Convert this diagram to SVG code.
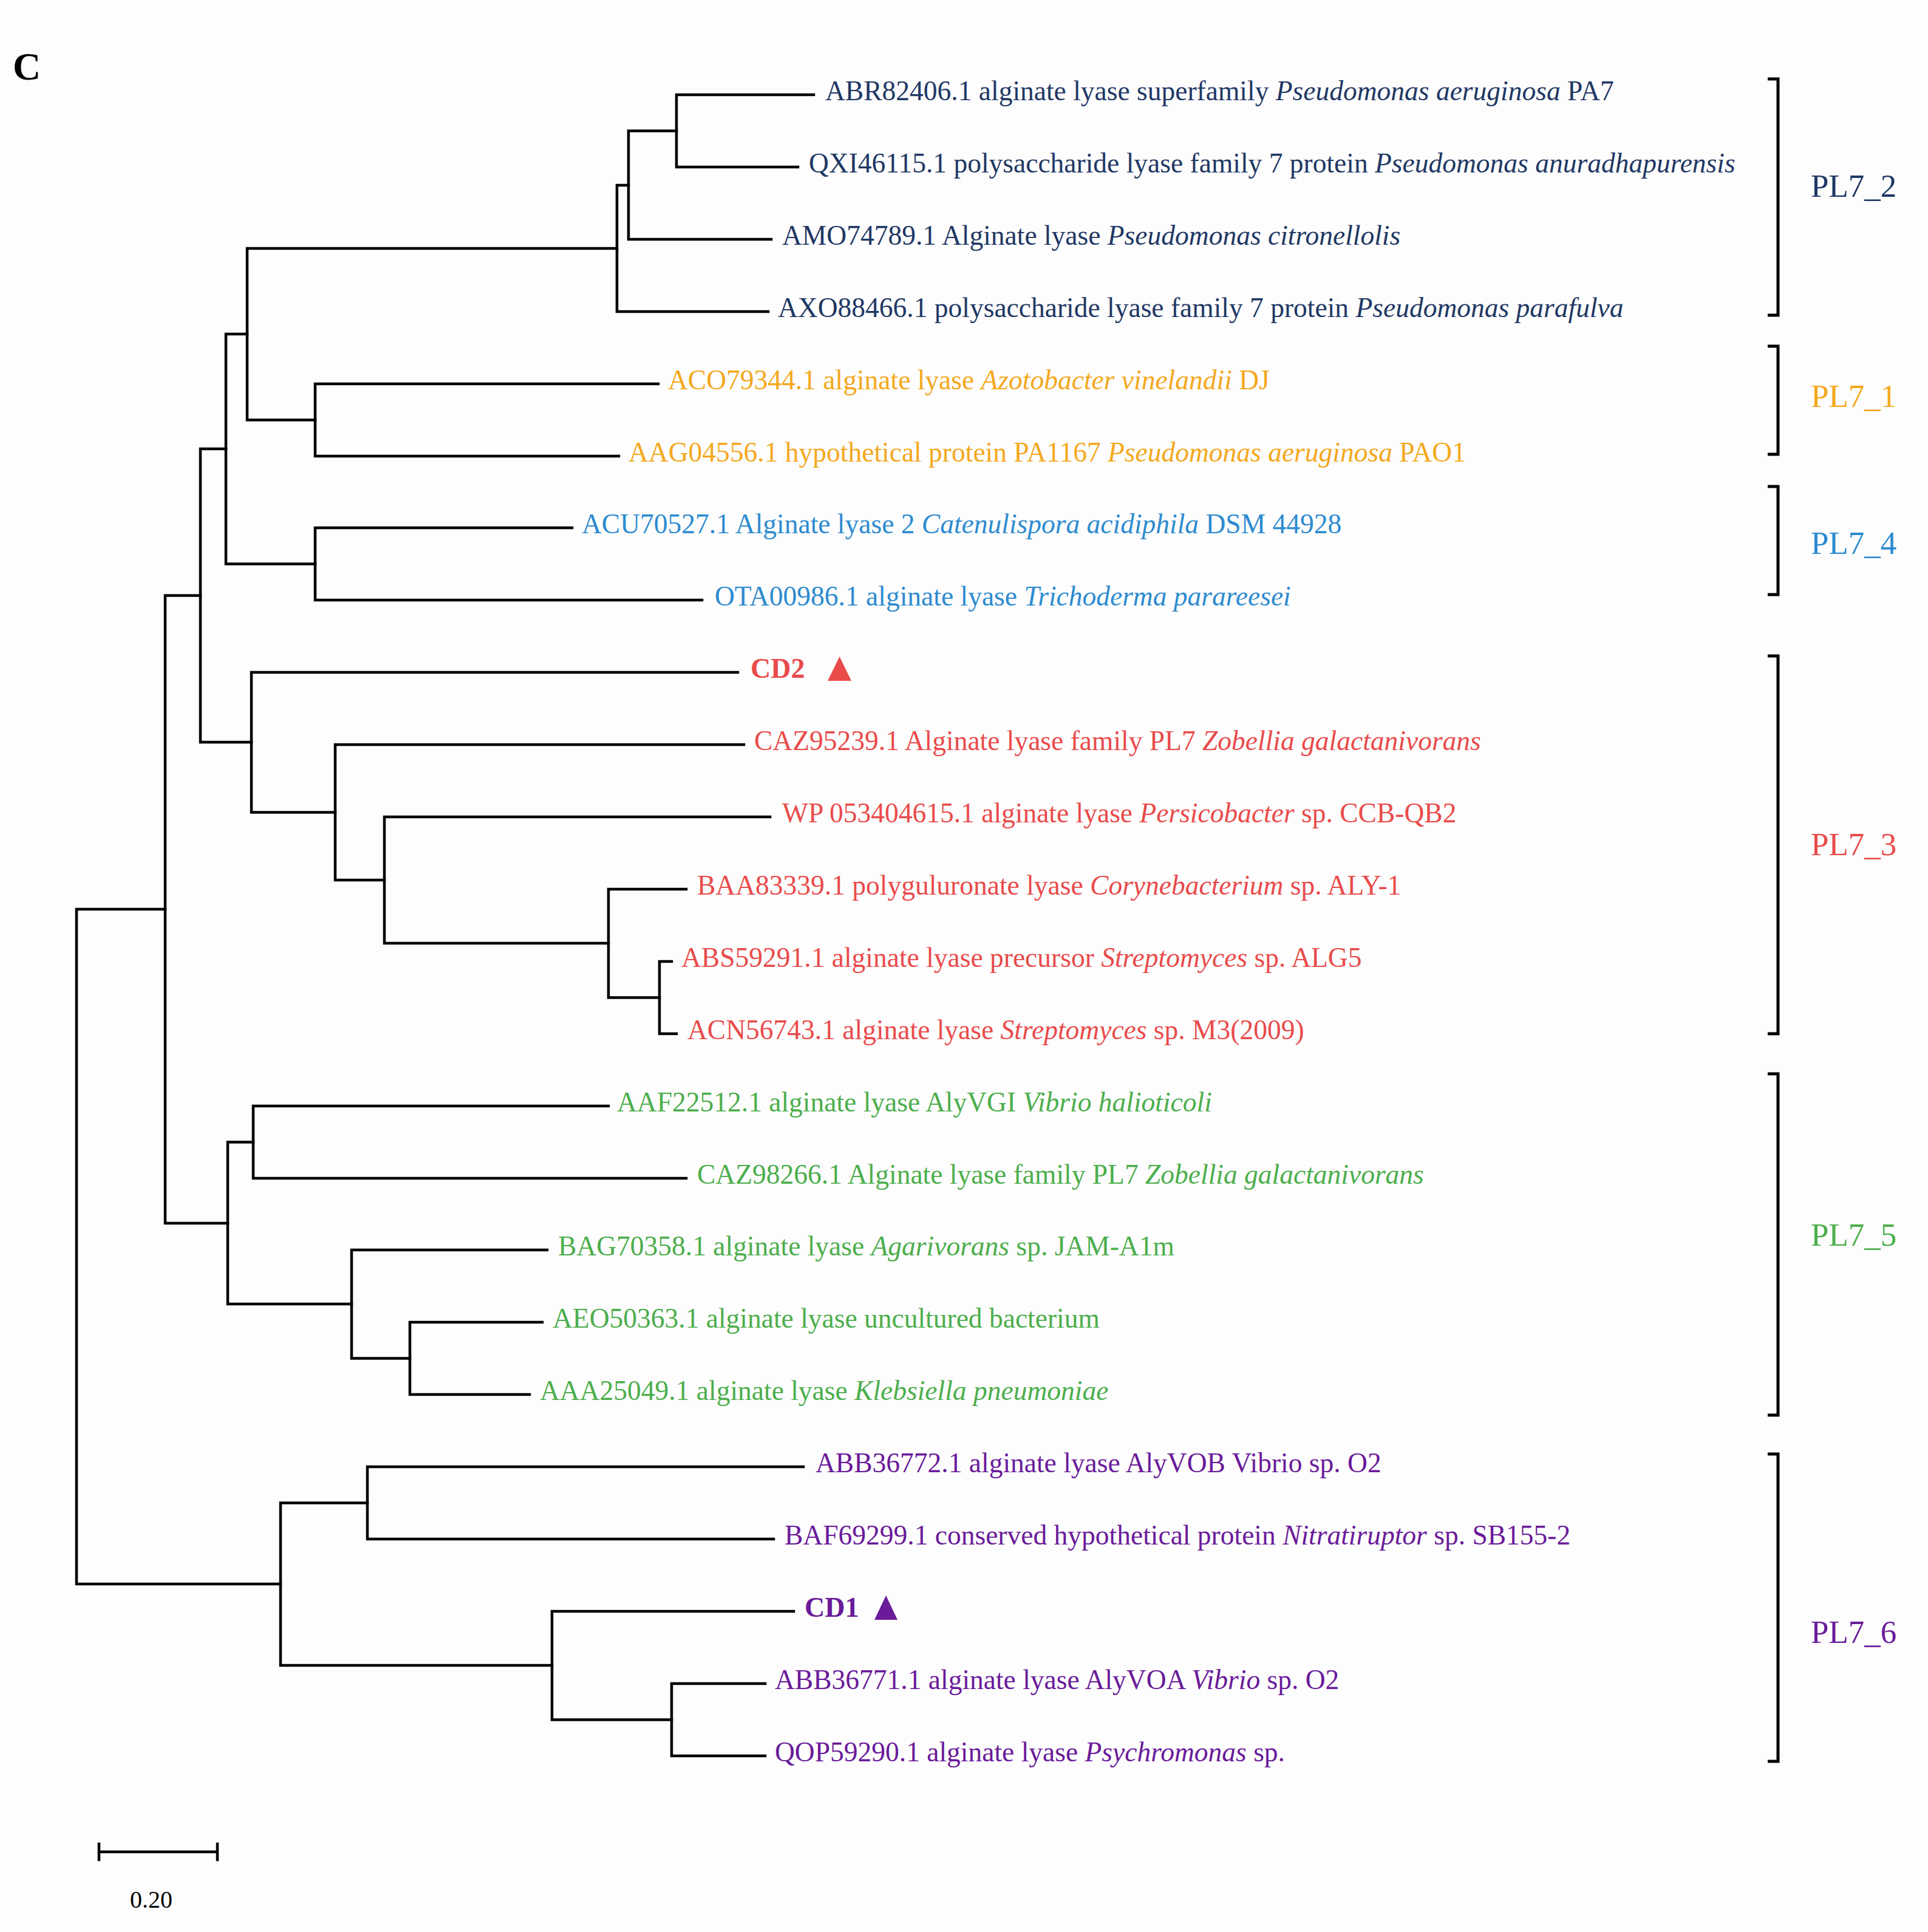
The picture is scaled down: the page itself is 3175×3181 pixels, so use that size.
<svg xmlns="http://www.w3.org/2000/svg" width="3175" height="3181" viewBox="0 0 3175 3181">
<style>
.t{font-family:"Liberation Serif","Times New Roman",serif;font-size:45.5px}
.i{font-style:italic}
.b{font-weight:bold;font-size:46px}
.lab{font-family:"Liberation Serif","Times New Roman",serif;font-size:53px}
.br{fill:none;stroke:#000;stroke-width:5}
.ln{fill:none;stroke:#000;stroke-width:4.5;stroke-linecap:square}
.c2{fill:#1f3864}.c1{fill:#f4a81d}.c4{fill:#2d8bd0}.c3{fill:#e94b4b}.c5{fill:#4cae4c}.c6{fill:#6a1b9a}
</style>
<rect width="3175" height="3181" fill="#fdfdfd"/>
<text x="21" y="131" font-family="Liberation Serif,serif" font-weight="bold" font-size="64">C</text>

<g id="connectors" class="ln">
<path d="M1340 156 H1114 V275 H1314"/>
<path d="M1114 215.5 H1035 V394 H1270"/>
<path d="M1035 305 H1016 V513 H1265"/>
<path d="M1084 632 H519 V751 H1019"/>
<path d="M1016 409 H407 V691.5 H519"/>
<path d="M942 869 H519 V988 H1156"/>
<path d="M407 550 H372 V928.5 H519"/>
<path d="M1106 1583 H1086 V1702 H1114"/>
<path d="M1130 1464 H1002 V1642.5 H1086"/>
<path d="M1268 1345 H633 V1553 H1002"/>
<path d="M1225 1226 H552 V1449 H633"/>
<path d="M1215 1107 H414 V1337.5 H552"/>
<path d="M372 739 H330 V1222 H414"/>
<path d="M1002 1821 H417 V1940 H1130"/>
<path d="M893 2177 H675 V2296 H872"/>
<path d="M901 2058 H579 V2236.5 H675"/>
<path d="M417 1880.5 H375 V2147 H579"/>
<path d="M330 980.5 H272 V2014 H375"/>
<path d="M1323 2415 H605 V2534 H1274"/>
<path d="M1260 2772 H1106 V2891 H1260"/>
<path d="M1307 2653 H909 V2831.5 H1106"/>
<path d="M605 2474.5 H462 V2742 H909"/>
<path d="M272 1497 H126 V2608 H462"/>
</g>

<g id="leaf-ABR82406" class="t c2"><text x="1359" y="165">ABR82406.1 alginate lyase superfamily <tspan class="i">Pseudomonas aeruginosa</tspan> PA7</text></g>
<g id="leaf-QXI46115" class="t c2"><text x="1332" y="284">QXI46115.1 polysaccharide lyase family 7 protein <tspan class="i">Pseudomonas anuradhapurensis</tspan></text></g>
<g id="leaf-AMO74789" class="t c2"><text x="1288" y="403">AMO74789.1 Alginate lyase <tspan class="i">Pseudomonas citronellolis</tspan></text></g>
<g id="leaf-AXO88466" class="t c2"><text x="1281" y="522">AXO88466.1 polysaccharide lyase family 7 protein <tspan class="i">Pseudomonas parafulva</tspan></text></g>
<g id="leaf-ACO79344" class="t c1"><text x="1100" y="641">ACO79344.1 alginate lyase <tspan class="i">Azotobacter vinelandii</tspan> DJ</text></g>
<g id="leaf-AAG04556" class="t c1"><text x="1035" y="760">AAG04556.1 hypothetical protein PA1167 <tspan class="i">Pseudomonas aeruginosa</tspan> PAO1</text></g>
<g id="leaf-ACU70527" class="t c4"><text x="958" y="878">ACU70527.1 Alginate lyase 2 <tspan class="i">Catenulispora acidiphila</tspan> DSM 44928</text></g>
<g id="leaf-OTA00986" class="t c4"><text x="1177" y="997">OTA00986.1 alginate lyase <tspan class="i">Trichoderma parareesei</tspan></text></g>
<g id="leaf-CD2" class="t c3"><text class="b" x="1236" y="1116">CD2</text><polygon points="1363,1121 1382.5,1081 1402,1121"/></g>
<g id="leaf-CAZ95239" class="t c3"><text x="1242" y="1235">CAZ95239.1 Alginate lyase family PL7 <tspan class="i">Zobellia galactanivorans</tspan></text></g>
<g id="leaf-WP053404615" class="t c3"><text x="1288" y="1354">WP 053404615.1 alginate lyase <tspan class="i">Persicobacter</tspan> sp. CCB-QB2</text></g>
<g id="leaf-BAA83339" class="t c3"><text x="1148" y="1473">BAA83339.1 polyguluronate lyase <tspan class="i">Corynebacterium</tspan> sp. ALY-1</text></g>
<g id="leaf-ABS59291" class="t c3"><text x="1122" y="1592">ABS59291.1 alginate lyase precursor <tspan class="i">Streptomyces</tspan> sp. ALG5</text></g>
<g id="leaf-ACN56743" class="t c3"><text x="1132" y="1711">ACN56743.1 alginate lyase <tspan class="i">Streptomyces</tspan> sp. M3(2009)</text></g>
<g id="leaf-AAF22512" class="t c5"><text x="1016" y="1830">AAF22512.1 alginate lyase AlyVGI <tspan class="i">Vibrio halioticoli</tspan></text></g>
<g id="leaf-CAZ98266" class="t c5"><text x="1148" y="1949">CAZ98266.1 Alginate lyase family PL7 <tspan class="i">Zobellia galactanivorans</tspan></text></g>
<g id="leaf-BAG70358" class="t c5"><text x="919" y="2067">BAG70358.1 alginate lyase <tspan class="i">Agarivorans</tspan> sp. JAM-A1m</text></g>
<g id="leaf-AEO50363" class="t c5"><text x="910" y="2186">AEO50363.1 alginate lyase uncultured bacterium</text></g>
<g id="leaf-AAA25049" class="t c5"><text x="889" y="2305">AAA25049.1 alginate lyase <tspan class="i">Klebsiella pneumoniae</tspan></text></g>
<g id="leaf-ABB36772" class="t c6"><text x="1343" y="2424">ABB36772.1 alginate lyase AlyVOB Vibrio sp. O2</text></g>
<g id="leaf-BAF69299" class="t c6"><text x="1292" y="2543">BAF69299.1 conserved hypothetical protein <tspan class="i">Nitratiruptor</tspan> sp. SB155-2</text></g>
<g id="leaf-CD1" class="t c6"><text class="b" x="1325" y="2662">CD1</text><polygon points="1440,2667 1459,2627 1478,2667"/></g>
<g id="leaf-ABB36771" class="t c6"><text x="1276" y="2781">ABB36771.1 alginate lyase AlyVOA <tspan class="i">Vibrio</tspan> sp. O2</text></g>
<g id="leaf-QOP59290" class="t c6"><text x="1276" y="2900">QOP59290.1 alginate lyase <tspan class="i">Psychromonas</tspan> sp.</text></g>

<g id="group-PL7_2"><path class="br" d="M2911 130 H2928 V519 H2911"/><text class="lab c2" x="2982" y="324">PL7_2</text></g>
<g id="group-PL7_1"><path class="br" d="M2911 570 H2928 V748 H2911"/><text class="lab c1" x="2982" y="670">PL7_1</text></g>
<g id="group-PL7_4"><path class="br" d="M2911 801 H2928 V979 H2911"/><text class="lab c4" x="2982" y="912">PL7_4</text></g>
<g id="group-PL7_3"><path class="br" d="M2911 1080 H2928 V1702 H2911"/><text class="lab c3" x="2982" y="1408">PL7_3</text></g>
<g id="group-PL7_5"><path class="br" d="M2911 1768 H2928 V2330 H2911"/><text class="lab c5" x="2982" y="2051">PL7_5</text></g>
<g id="group-PL7_6"><path class="br" d="M2911 2394 H2928 V2900 H2911"/><text class="lab c6" x="2982" y="2705">PL7_6</text></g>

<g id="scale-bar">
<path class="ln" d="M163 3049 H358 M163 3036 V3062 M358 3036 V3062"/>
<text x="214" y="3141" font-family="Liberation Serif,serif" font-size="40">0.20</text>
</g>
</svg>
